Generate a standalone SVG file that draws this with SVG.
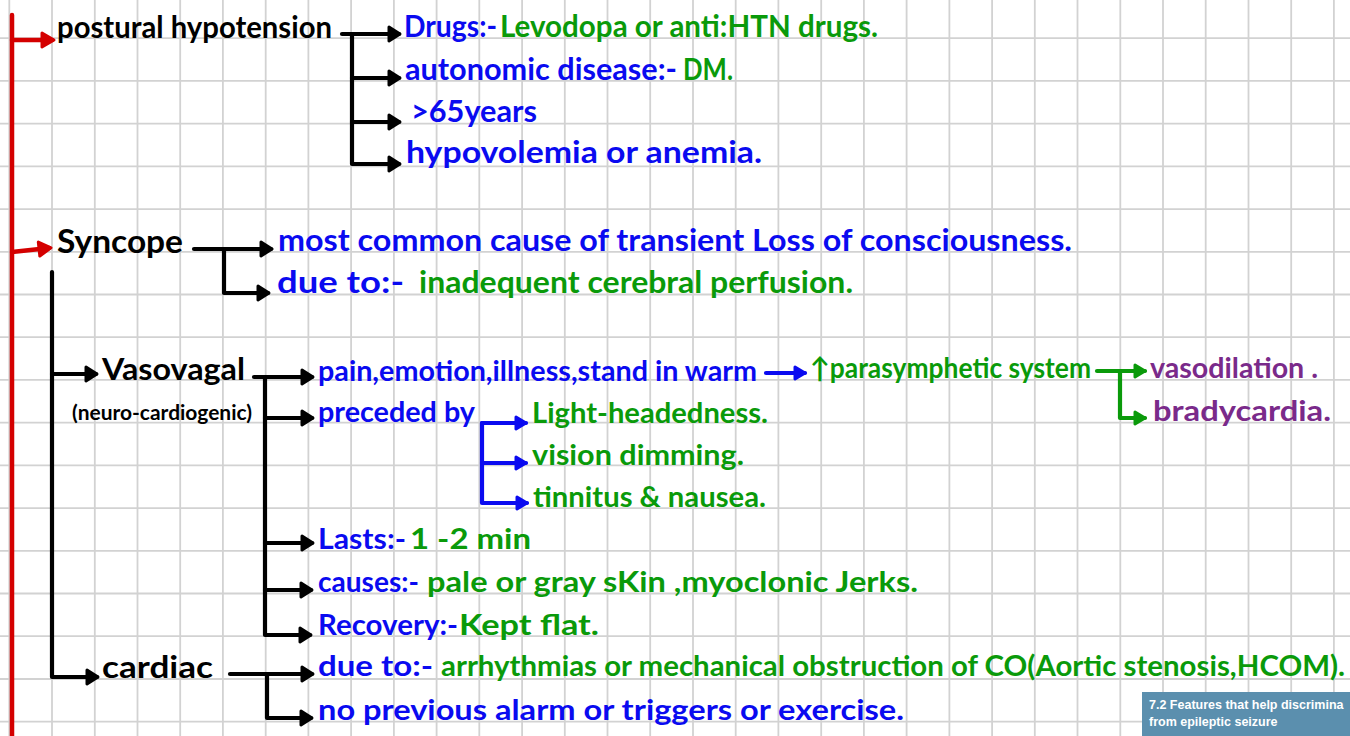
<svg xmlns="http://www.w3.org/2000/svg" width="1350" height="736" viewBox="0 0 1350 736">
<style>
  .grid { stroke: #d2d2d2; stroke-width: 1.8; fill: none; }
  .t { font-family: "Lato", "Open Sans", "DejaVu Sans", sans-serif; font-weight: 700; }
  .k { fill: #000000; }
  .b { fill: #0a0af0; }
  .g { fill: #0a9a0a; }
  .p { fill: #7a2a8a; }
  .f30 { font-size: 30px; }
  .f28 { font-size: 28px; }
  .cb { stroke: #000000; stroke-width: 4.2; fill: none; stroke-linecap: round; stroke-linejoin: round; }
  .cr { stroke: #d40000; stroke-width: 4.5; fill: none; stroke-linecap: round; }
  .cbl { stroke: #0a0af0; stroke-width: 4.2; fill: none; stroke-linecap: round; stroke-linejoin: round; }
  .cg { stroke: #0a9a0a; stroke-width: 4.2; fill: none; stroke-linecap: round; stroke-linejoin: round; }
  .box { font-family: "Liberation Sans Narrow", "Liberation Sans", sans-serif; font-weight: 700; fill: #ffffff; }
</style>
<defs>
  <marker id="ak" markerUnits="userSpaceOnUse" viewBox="-4 -11 20 22" markerWidth="20" markerHeight="22" refX="10" refY="0" orient="auto">
    <path d="M0,-7 L11,0 L0,7 Z" fill="#000" stroke="#000" stroke-width="3" stroke-linejoin="round"/>
  </marker>
  <marker id="ar" markerUnits="userSpaceOnUse" viewBox="-4 -11 20 22" markerWidth="20" markerHeight="22" refX="10" refY="0" orient="auto">
    <path d="M0,-7 L12,0 L0,7 Z" fill="#d40000" stroke="#d40000" stroke-width="3" stroke-linejoin="round"/>
  </marker>
  <marker id="abl" markerUnits="userSpaceOnUse" viewBox="-4 -11 20 22" markerWidth="20" markerHeight="22" refX="10" refY="0" orient="auto">
    <path d="M0,-6 L10,0 L0,6 Z" fill="#0a0af0" stroke="#0a0af0" stroke-width="3" stroke-linejoin="round"/>
  </marker>
  <marker id="ag" markerUnits="userSpaceOnUse" viewBox="-4 -11 20 22" markerWidth="20" markerHeight="22" refX="10" refY="0" orient="auto">
    <path d="M0,-6 L10,0 L0,6 Z" fill="#0a9a0a" stroke="#0a9a0a" stroke-width="3" stroke-linejoin="round"/>
  </marker>
</defs>
<rect x="0" y="0" width="1350" height="736" fill="#ffffff"/>
<path class="grid" d="M9.3,0V736 M52,0V736 M94.8,0V736 M137.5,0V736 M180.2,0V736 M222.9,0V736 M265.7,0V736 M308.4,0V736 M351.1,0V736 M393.9,0V736 M436.6,0V736 M479.3,0V736 M522.1,0V736 M564.8,0V736 M607.5,0V736 M650.2,0V736 M693,0V736 M735.7,0V736 M778.4,0V736 M821.2,0V736 M863.9,0V736 M906.6,0V736 M949.4,0V736 M992.1,0V736 M1034.8,0V736 M1077.5,0V736 M1120.3,0V736 M1163,0V736 M1205.7,0V736 M1248.5,0V736 M1291.2,0V736 M1333.9,0V736 M0,38.2H1350 M0,80.9H1350 M0,123.6H1350 M0,166.4H1350 M0,209.1H1350 M0,251.8H1350 M0,294.5H1350 M0,337.2H1350 M0,379.9H1350 M0,422.7H1350 M0,465.4H1350 M0,508.1H1350 M0,550.8H1350 M0,593.5H1350 M0,636.2H1350 M0,679H1350 M0,721.7H1350"/>

<g id="connectors">
  <path class="cr" d="M12,15 V736"/>
  <path class="cr" d="M12,40 H52" marker-end="url(#ar)"/>
  <path class="cr" d="M12,252 L49,248" marker-end="url(#ar)"/>

  <path class="cb" d="M342,34 H399" marker-end="url(#ak)"/>
  <path class="cb" d="M352,78 H399" marker-end="url(#ak)"/>
  <path class="cb" d="M352,122 H399" marker-end="url(#ak)"/>
  <path class="cb" d="M352,34 V164 H399" marker-end="url(#ak)"/>

  <path class="cb" d="M194,249 H271" marker-end="url(#ak)"/>
  <path class="cb" d="M224,250 V293 H268" marker-end="url(#ak)"/>

  <path class="cb" d="M52,374 H96" marker-end="url(#ak)"/>
  <path class="cb" d="M52,272 V677 H97" marker-end="url(#ak)"/>

  <path class="cb" d="M254,377 H312" marker-end="url(#ak)"/>
  <path class="cb" d="M265,418 H312" marker-end="url(#ak)"/>
  <path class="cb" d="M265,543 H312" marker-end="url(#ak)"/>
  <path class="cb" d="M265,590 H311" marker-end="url(#ak)"/>
  <path class="cb" d="M265,377 V635 H310" marker-end="url(#ak)"/>

  <path class="cb" d="M230,674 H312" marker-end="url(#ak)"/>
  <path class="cb" d="M267,674 V718 H311" marker-end="url(#ak)"/>

  <path class="cbl" d="M766,373 H805" marker-end="url(#abl)"/>
  <path class="cbl" d="M482,423 H526" marker-end="url(#abl)"/>
  <path class="cbl" d="M482,463 H526" marker-end="url(#abl)"/>
  <path class="cbl" d="M482,423 V503 H527" marker-end="url(#abl)"/>

  <path class="cg" d="M1097,371 H1145" marker-end="url(#ag)"/>
  <path class="cg" d="M1120,371 V418 H1145" marker-end="url(#ag)"/>
</g>

<g id="postural-hypotension"><text class="t k f30" x="57" y="38" textLength="275" lengthAdjust="spacingAndGlyphs">postural hypotension</text></g>
<g id="drugs"><text class="t b f30" x="404" y="37" textLength="93" lengthAdjust="spacingAndGlyphs">Drugs:-</text><text class="t g f30" x="500" y="37" textLength="378" lengthAdjust="spacingAndGlyphs">Levodopa or anti:HTN drugs.</text></g>
<g id="autonomic"><text class="t b f30" x="405" y="80" textLength="272" lengthAdjust="spacingAndGlyphs">autonomic disease:-</text><text class="t g f30" x="683" y="80" textLength="50" lengthAdjust="spacingAndGlyphs">DM.</text></g>
<g id="age"><text class="t b f30" x="411" y="122" textLength="126" lengthAdjust="spacingAndGlyphs">&gt;65years</text></g>
<g id="hypovolemia"><text class="t b f30" x="406" y="163" textLength="356" lengthAdjust="spacingAndGlyphs">hypovolemia or anemia.</text></g>

<g id="syncope"><text class="t k" font-size="33" x="57" y="253" textLength="126" lengthAdjust="spacingAndGlyphs">Syncope</text></g>
<g id="most-common"><text class="t b f30" x="278" y="251" textLength="794" lengthAdjust="spacingAndGlyphs">most common cause of transient Loss of consciousness.</text></g>
<g id="due-to-perfusion"><text class="t b f30" x="277" y="293" textLength="127" lengthAdjust="spacingAndGlyphs">due to:-</text><text class="t g f30" x="419" y="293" textLength="434" lengthAdjust="spacingAndGlyphs">inadequent cerebral perfusion.</text></g>

<g id="vasovagal"><text class="t k" font-size="31" x="102" y="380" textLength="143" lengthAdjust="spacingAndGlyphs">Vasovagal</text><text class="t k" font-size="21" x="72" y="420" textLength="180" lengthAdjust="spacingAndGlyphs">(neuro-cardiogenic)</text></g>
<g id="triggers"><text class="t b f28" x="318" y="381" textLength="439" lengthAdjust="spacingAndGlyphs">pain,emotion,illness,stand in warm</text></g>
<g id="parasympathetic"><text class="t g f28" x="810" y="378" textLength="281" lengthAdjust="spacingAndGlyphs">↑parasymphetic system</text></g>
<g id="vasodilation"><text class="t p f28" x="1150" y="378" textLength="168" lengthAdjust="spacingAndGlyphs">vasodilation .</text></g>
<g id="bradycardia"><text class="t p f28" x="1153" y="421" textLength="178" lengthAdjust="spacingAndGlyphs">bradycardia.</text></g>
<g id="preceded-by"><text class="t b f28" x="318" y="422" textLength="157" lengthAdjust="spacingAndGlyphs">preceded by</text></g>
<g id="light-headedness"><text class="t g f28" x="532" y="423" textLength="236" lengthAdjust="spacingAndGlyphs">Light-headedness.</text></g>
<g id="vision-dimming"><text class="t g f28" x="532" y="465" textLength="212" lengthAdjust="spacingAndGlyphs">vision dimming.</text></g>
<g id="tinnitus"><text class="t g f28" x="533" y="507" textLength="233" lengthAdjust="spacingAndGlyphs">tinnitus &amp; nausea.</text></g>
<g id="lasts"><text class="t b f28" x="318" y="549" textLength="88" lengthAdjust="spacingAndGlyphs">Lasts:-</text><text class="t g f28" x="410" y="549" textLength="121" lengthAdjust="spacingAndGlyphs">1 -2 min</text></g>
<g id="causes"><text class="t b f28" x="318" y="592" textLength="101" lengthAdjust="spacingAndGlyphs">causes:-</text><text class="t g f28" x="427" y="592" textLength="491" lengthAdjust="spacingAndGlyphs">pale or gray sKin ,myoclonic Jerks.</text></g>
<g id="recovery"><text class="t b f28" x="318" y="635" textLength="140" lengthAdjust="spacingAndGlyphs">Recovery:-</text><text class="t g f28" x="459" y="635" textLength="140" lengthAdjust="spacingAndGlyphs">Kept flat.</text></g>

<g id="cardiac"><text class="t k f30" x="102" y="678" textLength="111" lengthAdjust="spacingAndGlyphs">cardiac</text></g>
<g id="cardiac-due-to"><text class="t b f28" x="318" y="676" textLength="115" lengthAdjust="spacingAndGlyphs">due to:-</text><text class="t g f28" x="441" y="676" textLength="904" lengthAdjust="spacingAndGlyphs">arrhythmias or mechanical obstruction of CO(Aortic stenosis,HCOM).</text></g>
<g id="no-previous"><text class="t b f28" x="318" y="720" textLength="586" lengthAdjust="spacingAndGlyphs">no previous alarm or triggers or exercise.</text></g>

<g id="table-caption">
  <rect x="1142" y="692" width="208" height="44" fill="#5b8fae"/>
  <text class="box" x="1149" y="709" font-size="12.5">7.2  Features that help discrimina</text>
  <text class="box" x="1149" y="726" font-size="12.5">from epileptic seizure</text>
</g>
</svg>
